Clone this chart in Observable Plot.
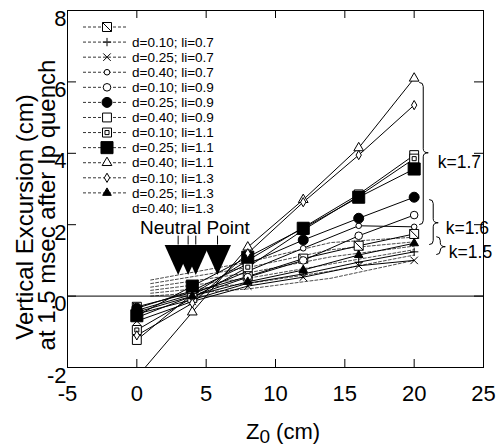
<!DOCTYPE html>
<html><head><meta charset="utf-8">
<script src="https://cdn.jsdelivr.net/npm/d3@7"></script>
<script src="https://cdn.jsdelivr.net/npm/@observablehq/plot@0.6"></script>
<style>body{margin:0;background:#fff;}</style>
</head><body><div id="chart"></div>
<script>
// ---------- data ----------
const zValues = [0, 4, 8, 12, 16, 20];
const xTicks = [-5, 0, 5, 10, 15, 20, 25];
const yTicks = [-2, 0, 2, 4, 6, 8];

const boxSlashSeries      = [-0.30, 0.10, 0.55, 1.05, 1.41, 1.74];
const plusSeries          = [-0.50, -0.10, 0.36, 0.62, 0.95, 1.24];
const timesSeries         = [-0.70, -0.15, 0.28, 0.53, 0.85, 1.00];
const smallCircleSeries   = [-0.40, 0.05, 0.70, 1.34, 1.97, 1.94];
const circleSeries        = [-0.45, 0.00, 0.53, 1.00, 1.69, 2.27];
const filledCircleSeries  = [-0.34, 0.15, 0.90, 1.57, 2.18, 2.77];
const squareSeries        = [-1.23, 0.05, 1.00, 1.92, 2.85, 3.95];
const squareDotSeries     = [-0.95, -0.05, 0.81, 1.85, 2.80, 3.85];
const filledSquareSeries  = [-0.55, 0.28, 1.09, 1.90, 2.77, 3.56];
const triangleSeries      = [-2.27, -0.45, 1.37, 2.70, 4.15, 6.10];
const diamondSeries       = [-1.10, -0.20, 1.20, 2.63, 3.95, 5.35];
const filledTriangleSeries= [-0.60, 0.00, 0.40, 0.73, 1.15, 1.48];

const legendLabels = ["d=0.10; li=0.7","d=0.25; li=0.7","d=0.40; li=0.7","d=0.10; li=0.9","d=0.25; li=0.9","d=0.40; li=0.9","d=0.10; li=1.1","d=0.25; li=1.1","d=0.40; li=1.1","d=0.10; li=1.3","d=0.25; li=1.3","d=0.40; li=1.3"];

// dashed texture lines (lower region)
const hatchZ = [1, 8, 14, 20];
const hatch1 = [0.00, 0.20, 0.50, 1.00];
const hatch2 = [0.08, 0.35, 0.70, 1.15];
const hatch3 = [0.16, 0.50, 0.90, 1.30];
const hatch4 = [0.25, 0.65, 1.10, 1.40];
const hatch5 = [0.35, 0.80, 1.30, 1.52];
const hatch6 = [0.45, 0.95, 1.50, 1.65];

const neutralPoints = [2.98, 3.70, 4.25, 5.82];
const neutralLabel = "Neutral Point";

const kLabels = ["k=1.7", "k=1.6", "k=1.5"];
const braceX = [20.69, 21.41, 21.92];
const braceTop = [5.97, 2.69, 1.65];
const braceBottom = [1.99, 1.43, 1.15];
const braceTip = [4.00, 2.04, 1.37];
const kLabelX = [21.7, 22.28, 22.5];
const kLabelY = [3.75, 1.90, 1.23];

// ---------- symbols ----------
const boxSlash = {draw(c, size){const r=Math.sqrt(size/Math.PI);c.moveTo(-r,-r);c.lineTo(r,-r);c.lineTo(r,r);c.lineTo(-r,r);c.closePath();c.moveTo(-r,-r);c.lineTo(r,r);}};
const boxDot = {draw(c, size){const r=Math.sqrt(size/Math.PI);c.moveTo(-r,-r);c.lineTo(r,-r);c.lineTo(r,r);c.lineTo(-r,r);c.closePath();const q=r*0.45;c.moveTo(-q,-q);c.lineTo(q,-q);c.lineTo(q,q);c.lineTo(-q,q);c.closePath();}};
const downTri = {draw(c, size){const r=Math.sqrt(size/Math.PI);c.moveTo(-0.9*r,-r);c.lineTo(0.9*r,-r);c.lineTo(0,r);c.closePath();}};

const seriesDefs = [
  {v: boxSlashSeries, symbol: boxSlash, r: 4.5, fill: "white", stroke: "black"},
  {v: plusSeries, symbol: d3.symbolPlus, r: 2.8, fill: "none", stroke: "black"},
  {v: timesSeries, symbol: d3.symbolTimes, r: 3.5, fill: "none", stroke: "black"},
  {v: smallCircleSeries, symbol: d3.symbolCircle, r: 2.8, fill: "white", stroke: "black"},
  {v: circleSeries, symbol: d3.symbolCircle, r: 3.8, fill: "white", stroke: "black"},
  {v: filledCircleSeries, symbol: d3.symbolCircle, r: 5, fill: "black", stroke: "black"},
  {v: squareSeries, symbol: d3.symbolSquare, r: 5, fill: "white", stroke: "black"},
  {v: squareDotSeries, symbol: boxDot, r: 4.5, fill: "white", stroke: "black"},
  {v: filledSquareSeries, symbol: d3.symbolSquare, r: 6.8, fill: "black", stroke: "black"},
  {v: triangleSeries, symbol: d3.symbolTriangle, r: 3.6, fill: "white", stroke: "black"},
  {v: diamondSeries, symbol: d3.symbolDiamond, r: 2.8, fill: "white", stroke: "black"},
  {v: filledTriangleSeries, symbol: d3.symbolTriangle, r: 3.2, fill: "black", stroke: "black"}
];

const rows = seriesDefs.flatMap((s, si) => zValues.map((z, i) => ({series: si, z, v: s.v[i]})));
const hatchRows = [hatch1, hatch2, hatch3, hatch4, hatch5, hatch6].flatMap((h, hi) => hatchZ.map((z, i) => ({series: hi, z, v: h[i]})));

const FONT = "Liberation Sans, Arial, Helvetica, sans-serif";

// ---------- custom marks ----------
function legendMark(index, scales, values, dims) {
  const g = d3.create("svg:g").attr("font-family", FONT).attr("text-anchor", "start");
  const left = dims.marginLeft, top = dims.marginTop, step = 15.08, y0 = 17;
  seriesDefs.forEach((s, i) => {
    const ry = top + y0 + i * step;
    g.append("line").attr("x1", left + 16).attr("x2", left + 60).attr("y1", ry).attr("y2", ry)
      .attr("stroke", "black").attr("stroke-width", 0.8).attr("stroke-dasharray", "3,2");
    g.append("path").attr("transform", `translate(${left + 40},${ry})`)
      .attr("d", d3.symbol(s.symbol, Math.PI * s.r * s.r)())
      .attr("fill", s.fill).attr("stroke", s.stroke).attr("stroke-width", 1);
  });
  legendLabels.forEach((lab, i) => {
    const ry = top + y0 + (i + 1) * step;
    g.append("text").attr("x", left + 65).attr("y", ry).attr("dy", "0.35em")
      .attr("text-anchor", "start")
      .attr("font-size", 13.5).attr("fill", "black").text(lab);
  });
  return g.node();
}

function braceMark(index, {x, y}) {
  const g = d3.create("svg:g");
  kLabels.forEach((k, i) => {
    const bx = x(braceX[i]), t = y(braceTop[i]), b = y(braceBottom[i]), m = y(braceTip[i]);
    const c = 4, w = 5;
    const d = `M${bx - c},${t} Q${bx},${t} ${bx},${t + c} L${bx},${m - c} Q${bx},${m} ${bx + w},${m} Q${bx},${m} ${bx},${m + c} L${bx},${b - c} Q${bx},${b} ${bx - c},${b}`;
    g.append("path").attr("d", d).attr("fill", "none").attr("stroke", "black").attr("stroke-width", 1);
  });
  return g.node();
}

function xTitleMark(index, scales, values, dims) {
  const g = d3.create("svg:g").attr("font-family", FONT);
  const cx = dims.marginLeft + (dims.width - dims.marginLeft - dims.marginRight) / 2 + 8;
  const t = g.append("text").attr("x", cx).attr("y", dims.height - 9).attr("text-anchor", "middle")
    .attr("font-size", 22).attr("fill", "black");
  t.append("tspan").text("Z");
  t.append("tspan").attr("dy", 4).attr("font-size", 19).text("0");
  t.append("tspan").attr("dy", -4).text(" (cm)");
  return g.node();
}

const W = 499, H = 448, mL = 67, mR = 16, mT = 10, mB = 81;
const frameW = W - mL - mR, frameH = H - mT - mB;

const marks = [
  Plot.line(hatchRows, {x: "z", y: "v", z: "series", stroke: "black", strokeWidth: 1, strokeOpacity: 0.7, strokeDasharray: "3,2", clip: true}),
  Plot.ruleY([0], {stroke: "black", strokeWidth: 1}),
  Plot.line(rows, {x: "z", y: "v", z: "series", stroke: "black", strokeWidth: 1, clip: true}),
  ...seriesDefs.map((s, si) => Plot.dot(rows.filter(d => d.series === si), {x: "z", y: "v", symbol: s.symbol, r: s.r, fill: s.fill, stroke: s.stroke, strokeWidth: 1, clip: true})),
  Plot.ruleX(neutralPoints, {x: d => d, y1: 1.43, y2: 1.68, stroke: "black", strokeWidth: 1}),
  Plot.dot(neutralPoints, {x: d => d, y: 1.01, symbol: downTri, r: 15, fill: "black", stroke: "none"}),
  Plot.text([neutralLabel], {x: d3.mean(neutralPoints), y: 1.9, text: d => d, fontSize: 19, fontFamily: FONT, fill: "black"}),
  braceMark,
  Plot.text(kLabels, {x: (d, i) => kLabelX[i], y: (d, i) => kLabelY[i], text: d => d, textAnchor: "start", fontSize: 17.5, fontFamily: FONT, fill: "black"}),
  legendMark,
  Plot.axisX(xTicks, {tickSize: 0, tickPadding: 18, fontSize: 22, fontFamily: FONT, tickFormat: d => String(d), label: null}),
  Plot.axisY(yTicks, {tickSize: 0, tickPadding: 1, fontSize: 22, fontFamily: FONT, tickFormat: d => String(d), label: null, dy: 8}),
  Plot.tickX(xTicks, {x: d => d, insetTop: frameH - 8, stroke: "black"}),
  Plot.tickX(xTicks, {x: d => d, insetBottom: frameH - 8, stroke: "black"}),
  Plot.tickY(yTicks, {y: d => d, insetRight: frameW - 9, stroke: "black"}),
  Plot.tickY(yTicks, {y: d => d, insetLeft: frameW - 9, stroke: "black"}),
  Plot.text(["Vertical Excursion (cm)"], {frameAnchor: "left", dx: -42, dy: 28, rotate: -90, textAnchor: "middle", text: d => d, fontSize: 24, fontFamily: FONT, fill: "black"}),
  Plot.text(["at 1.5 msec after Ip quench"], {frameAnchor: "left", dx: -20, dy: 16, rotate: -90, textAnchor: "middle", text: d => d, fontSize: 24, fontFamily: FONT, fill: "black"}),
  xTitleMark,
  Plot.frame({stroke: "black", strokeWidth: 1})
];

const chart = Plot.plot({
  width: W, height: H,
  marginLeft: mL, marginRight: mR, marginTop: mT, marginBottom: mB,
  x: {domain: [-5, 25], label: null},
  y: {domain: [-2, 8], label: null},
  style: {fontFamily: FONT, color: "black", background: "white", overflow: "visible"},
  marks
});
document.getElementById("chart").appendChild(chart);
</script>
</body></html>
